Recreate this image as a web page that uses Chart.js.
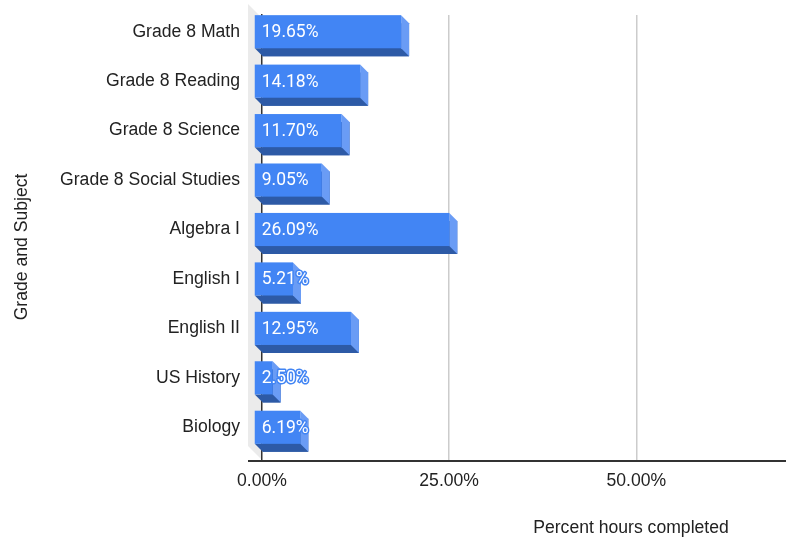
<!DOCTYPE html>
<html>
<head>
<meta charset="utf-8">
<script src="https://cdn.jsdelivr.net/npm/chart.js@4.4.1/dist/chart.umd.min.js"></script>
<style>
  html, body { margin: 0; padding: 0; background: #fff; }
  #wrap { position: relative; width: 786px; height: 537px; }
</style>
</head>
<body>
<div id="wrap"><canvas id="chart"></canvas></div>
<script>
// ===== data =====
const subjects = [
  "Grade 8 Math",
  "Grade 8 Reading",
  "Grade 8 Science",
  "Grade 8 Social Studies",
  "Algebra I",
  "English I",
  "English II",
  "US History",
  "Biology"
];
const percentDone = [19.65, 14.18, 11.70, 9.05, 26.09, 5.21, 12.95, 2.50, 6.19];
const xTickValues = [0, 25, 50];
const xTitle = "Percent hours completed";
const yTitle = "Grade and Subject";

// 3D look
const DEPTH = 8;
const frontColor = "#4285f4";
const sideColor = "#6a9cf5";
const bottomColor = "#2d5aa6";
const axisFont = { family: "'Liberation Sans', Arial, sans-serif", size: 17.6 };
const axisFontCss = "17.6px 'Liberation Sans', Arial, sans-serif";

function fillPoly(ctx, pts) {
  ctx.beginPath();
  ctx.moveTo(pts[0][0], pts[0][1]);
  for (let i = 1; i < pts.length; i++) ctx.lineTo(pts[i][0], pts[i][1]);
  ctx.closePath();
  ctx.fill();
}

// 左の壁 / 立体バー / ラベル
const bar3d = {
  id: "bar3d",
  beforeDraw(chart) {
    const { ctx, chartArea: a } = chart;
    ctx.save();
    ctx.fillStyle = "#ebebeb";
    fillPoly(ctx, [
      [a.left - 14, a.top - 11],
      [a.left, a.top + 3],
      [a.left, a.bottom],
      [a.left - 14, a.bottom - 14]
    ]);
    ctx.restore();
  },
  afterDatasetsDraw(chart) {
    const { ctx, chartArea: a } = chart;
    const meta = chart.getDatasetMeta(0);
    ctx.save();
    meta.data.forEach((bar, i) => {
      const p = bar.getProps(["x", "y", "base", "height"], true);
      const x0 = p.base, x1 = p.x;
      const y0 = p.y - p.height / 2, y1 = p.y + p.height / 2;
      const d = DEPTH;
      ctx.fillStyle = bottomColor;
      fillPoly(ctx, [[x0 - d, y1 - d], [x1 - d, y1 - d], [x1, y1], [x0, y1]]);
      ctx.fillStyle = sideColor;
      fillPoly(ctx, [[x1 - d, y0 - d], [x1, y0], [x1, y1], [x1 - d, y1 - d]]);
      ctx.fillStyle = frontColor;
      ctx.fillRect(x0 - d, y0 - d, x1 - x0, y1 - y0);

      // value label
      const txt = percentDone[i].toFixed(2) + "%";
      ctx.font = "17.5px Roboto, sans-serif";
      ctx.textAlign = "left";
      ctx.textBaseline = "middle";
      ctx.lineJoin = "round";
      ctx.lineWidth = 3;
      ctx.strokeStyle = frontColor;
      ctx.strokeText(txt, x0 - d + 7, p.y - d + 1);
      ctx.fillStyle = "#ffffff";
      ctx.fillText(txt, x0 - d + 7, p.y - d + 1);
    });

    // x axis line
    ctx.strokeStyle = "#333333";
    ctx.lineWidth = 2;
    ctx.beginPath();
    ctx.moveTo(a.left - 14, a.bottom + 1);
    ctx.lineTo(a.right, a.bottom + 1);
    ctx.stroke();
    ctx.restore();
  },
  afterDraw(chart) {
    const { ctx } = chart;
    ctx.save();
    ctx.font = axisFontCss;
    ctx.fillStyle = "#222222";
    ctx.textAlign = "center";
    ctx.textBaseline = "middle";
    ctx.fillText(xTitle, 631, 528);
    // 縦軸タイトル
    ctx.translate(22, 247);
    ctx.rotate(-Math.PI / 2);
    ctx.fillText(yTitle, 0, 0);
    ctx.restore();
  }
};

new Chart(document.getElementById("chart"), {
  type: "bar",
  data: {
    labels: subjects,
    datasets: [{
      data: percentDone,
      backgroundColor: bottomColor,
      borderWidth: 0,
      barPercentage: 0.67,
      categoryPercentage: 1
    }]
  },
  options: {
    indexAxis: "y",
    responsive: true,
    maintainAspectRatio: false,
    animation: false,
    layout: { autoPadding: false, padding: { top: 15, right: 0, bottom: 0, left: 0 } },
    plugins: {
      legend: { display: false },
      tooltip: { enabled: false }
    },
    scales: {
      x: {
        min: 0,
        max: 70,
        afterBuildTicks: s => { s.ticks = xTickValues.map(v => ({ value: v })); },
        afterFit: s => { s.height = 77; s.paddingRight = 0; },
        border: { display: false },
        grid: {
          drawTicks: false,
          lineWidth: 1.5,
          color: c => (c.tick && c.tick.value === 0 ? "rgba(0,0,0,0)" : "#cccccc")
        },
        ticks: {
          padding: 11,
          color: "#222222",
          font: axisFont,
          maxRotation: 0,
          callback: v => Number(v).toFixed(2) + "%"
        }
      },
      y: {
        afterFit: s => { s.width = 262; s.paddingTop = 0; s.paddingBottom = 0; },
        border: { display: true, color: "#333333", width: 1.5 },
        grid: { display: false, drawTicks: false },
        ticks: {
          padding: 22,
          labelOffset: -8,
          color: "#222222",
          font: axisFont
        }
      }
    }
  },
  plugins: [bar3d]
});
</script>
</body>
</html>
